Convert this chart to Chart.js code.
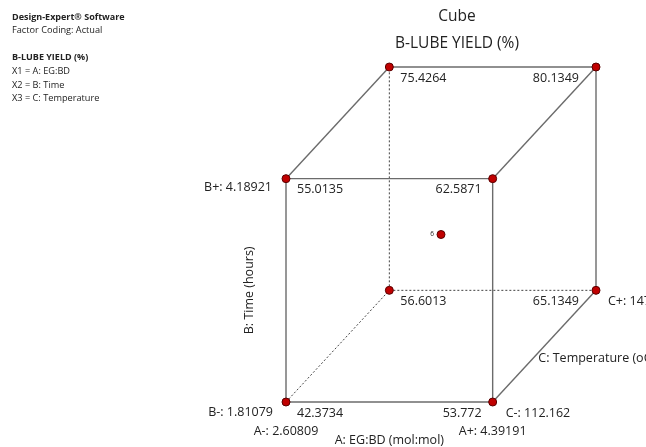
<!DOCTYPE html>
<html>
<head>
<meta charset="utf-8">
<script src="https://cdn.jsdelivr.net/npm/chart.js@4/dist/chart.umd.min.js"></script>
<style>
  html, body { margin: 0; padding: 0; background: #fff; }
  canvas { display: block; }
</style>
</head>
<body>
<canvas id="cube" width="646" height="447"></canvas>
<script>
// Coded factor levels of the eight cube corners (A: EG:BD, B: Time, C: Temperature)
const cornerA = [-1, 1, -1, 1, -1, 1, -1, 1];
const cornerB = [-1, -1, 1, 1, -1, -1, 1, 1];
const cornerC = [-1, -1, -1, -1, 1, 1, 1, 1];
// Predicted B-LUBE yield (%) at each corner
const cornerYield = ["42.3734", "53.772", "55.0135", "62.5871", "56.6013", "65.1349", "75.4264", "80.1349"];
// Centre point and its replicate count
const centerPoint = [0, 0, 0];
const centerRuns = "6";
// Actual factor levels for the axis labels
const levelsA = ["2.60809", "4.39191"];
const levelsB = ["1.81079", "4.18921"];
const levelsC = ["112.162", "147.838"];
// Cube edges as pairs of corner indices; edges meeting the hidden corner are dashed
const edges = [[0,1],[2,3],[0,2],[1,3],[5,7],[6,7],[2,6],[3,7],[1,5],[4,5],[4,6],[0,4]];
const hiddenCorner = 4;

// Oblique projection of (A, B, C) onto the page plane
const DEPTH = 0.5;
function project(a, b, c) { return { x: a + DEPTH * c, y: b + DEPTH * c }; }

const corners = cornerA.map((a, i) => project(a, cornerB[i], cornerC[i]));
const center = project(centerPoint[0], centerPoint[1], centerPoint[2]);

const edgeSets = edges.map(([i, j]) => {
  const dashed = i === hiddenCorner || j === hiddenCorner;
  return {
    type: 'scatter',
    data: [corners[i], corners[j]],
    showLine: true,
    borderColor: dashed ? '#444' : '#6b6b6b',
    borderWidth: dashed ? 1 : 1.4,
    borderDash: dashed ? [2, 2] : [],
    pointRadius: 0,
    order: 2,
    clip: false
  };
});

const FONT = '"Open Sans", "Noto Sans", sans-serif';

const labelPlugin = {
  id: 'cubeLabels',
  afterDatasetsDraw(chart) {
    const ctx = chart.ctx;
    const sx = chart.scales.x, sy = chart.scales.y;
    const px = p => ({ x: sx.getPixelForValue(p.x), y: sy.getPixelForValue(p.y) });
    ctx.save();
    ctx.fillStyle = '#222';
    ctx.textBaseline = 'middle';

    // Corner responses inside the cube
    ctx.font = '12.5px ' + FONT;
    corners.forEach((p, i) => {
      const q = px(p);
      if (cornerA[i] < 0) {
        ctx.textAlign = 'left';
        ctx.fillText(cornerYield[i], q.x + 11, q.y + 11);
      } else {
        ctx.textAlign = 'right';
        ctx.fillText(cornerYield[i], q.x - (cornerC[i] > 0 ? 17 : 11), q.y + 11);
      }
    });

    // Factor level labels
    const fl = px(corners[0]), fr = px(corners[1]), tl = px(corners[2]), br = px(corners[5]);
    ctx.font = '12.5px ' + FONT;
    ctx.textAlign = 'right';
    ctx.fillText('B+: ' + levelsB[1], tl.x - 14, tl.y + 9);
    ctx.fillText('B-: ' + levelsB[0], fl.x - 13, fl.y + 10);
    ctx.textAlign = 'center';
    ctx.fillText('A-: ' + levelsA[0], fl.x, fl.y + 29);
    ctx.fillText('A+: ' + levelsA[1], fr.x, fr.y + 29);
    ctx.fillText('A: EG:BD (mol:mol)', (fl.x + fr.x) / 2, fl.y + 38);
    ctx.textAlign = 'left';
    ctx.fillText('C-: ' + levelsC[0], fr.x + 13, fr.y + 11);
    ctx.fillText('C+: ' + levelsC[1], br.x + 12, br.y + 11);
    ctx.fillText('C: Temperature (oC)', (fr.x + br.x) / 2 - 6, (fr.y + br.y) / 2 + 12);

    // Vertical axis title
    ctx.save();
    ctx.translate(fl.x - 37, (fl.y + tl.y) / 2);
    ctx.rotate(-Math.PI / 2);
    ctx.textAlign = 'center';
    ctx.fillText('B: Time (hours)', 0, 0);
    ctx.restore();

    // Centre-point replicate count
    const c = px(center);
    ctx.font = '6.5px ' + FONT;
    ctx.textAlign = 'right';
    ctx.fillText(centerRuns, c.x - 7, c.y);

    // Titles
    ctx.textAlign = 'center';
    ctx.font = '15.5px ' + FONT;
    ctx.fillText('Cube', 457, 17);
    ctx.fillText('B-LUBE YIELD (%)', 457, 44);

    // Software header block
    ctx.textAlign = 'left';
    ctx.font = 'bold 9px ' + FONT;
    ctx.fillText('Design-Expert\u00AE Software', 12, 17);
    ctx.font = '9.2px ' + FONT;
    ctx.fillText('Factor Coding: Actual', 12, 30);
    ctx.font = 'bold 9px ' + FONT;
    ctx.fillText('B-LUBE YIELD (%)', 12, 57);
    ctx.font = '9.2px ' + FONT;
    ctx.fillText('X1 = A: EG:BD', 12, 71);
    ctx.fillText('X2 = B: Time', 12, 85);
    ctx.fillText('X3 = C: Temperature', 12, 98);
    ctx.restore();
  }
};

new Chart(document.getElementById('cube'), {
  type: 'scatter',
  data: {
    datasets: [
      {
        data: corners,
        pointRadius: 4,
        pointBackgroundColor: '#c00000',
        pointBorderColor: '#5a0000',
        pointBorderWidth: 1,
        order: 0,
        clip: false
      },
      {
        data: [center],
        pointRadius: 4,
        pointBackgroundColor: '#c00000',
        pointBorderColor: '#5a0000',
        pointBorderWidth: 1,
        order: 0,
        clip: false
      },
      ...edgeSets
    ]
  },
  options: {
    responsive: false,
    animation: false,
    layout: { padding: { left: 286, right: 50, top: 67, bottom: 45 } },
    plugins: { legend: { display: false }, tooltip: { enabled: false } },
    scales: {
      x: { type: 'linear', min: -1.5, max: 1.5, display: false },
      y: { type: 'linear', min: -1.5, max: 1.5, display: false }
    }
  },
  plugins: [labelPlugin]
});
</script>
</body>
</html>
